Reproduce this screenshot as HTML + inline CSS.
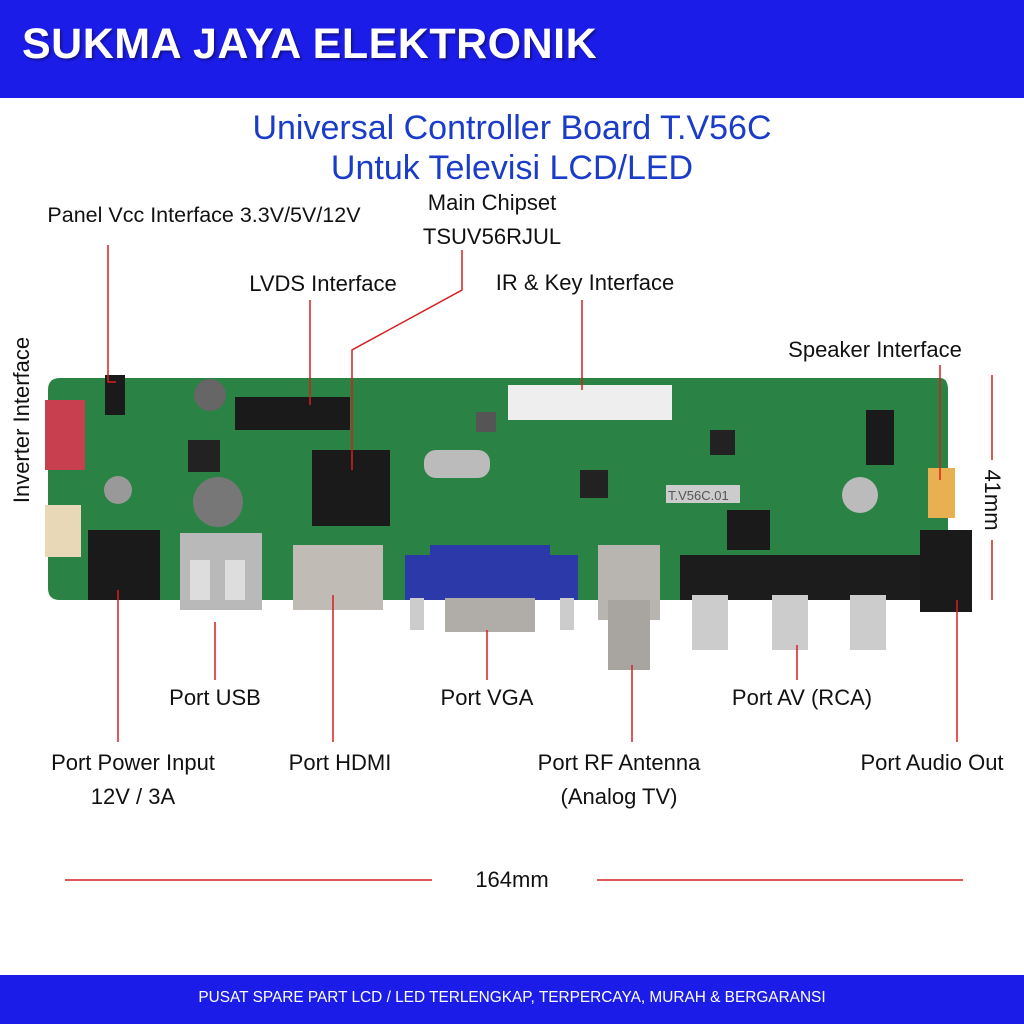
<!DOCTYPE html>
<html><head><meta charset="utf-8"><style>
html,body{margin:0;padding:0;width:1024px;height:1024px;overflow:hidden;background:#fff;font-family:"Liberation Sans",sans-serif;}
.t{position:absolute;color:#111;font-size:22px;white-space:nowrap;transform:translateX(-50%);}
</style></head><body>
<div style="position:absolute;left:0;top:0;width:1024px;height:98px;background:#1c1ce8;"></div>
<div style="position:absolute;left:22px;top:20px;color:#fff;font-weight:bold;font-size:43px;letter-spacing:0.5px;text-shadow:2px 2px 2px rgba(0,0,0,0.35)">SUKMA JAYA ELEKTRONIK</div>
<div class="t" style="left:512px;top:109px;color:#1a3cc8;font-size:34px">Universal Controller Board T.V56C</div>
<div class="t" style="left:512px;top:149px;color:#1a3cc8;font-size:34px">Untuk Televisi LCD/LED</div>

<svg width="1024" height="1024" style="position:absolute;left:0;top:0">
<path d="M60 378 L940 378 Q948 378 948 390 L948 540 L920 540 L920 600 L60 600 Q48 600 48 588 L48 390 Q48 378 60 378Z" fill="#2a8244"/>
<rect x="45" y="400" width="40" height="70" fill="#c8404f"/>
<rect x="45" y="505" width="36" height="52" fill="#e8d8b8"/>
<circle cx="118" cy="490" r="14" fill="#999"/>
<circle cx="860" cy="495" r="18" fill="#bbb"/>
<rect x="88" y="530" width="72" height="70" fill="#1a1a1a"/>
<rect x="180" y="533" width="82" height="77" fill="#b9b9b9"/>
<rect x="190" y="560" width="20" height="40" fill="#ddd"/><rect x="225" y="560" width="20" height="40" fill="#ddd"/>
<rect x="293" y="545" width="90" height="65" fill="#c0bcb5"/>
<rect x="405" y="555" width="173" height="45" fill="#2b3aa8"/>
<rect x="430" y="545" width="120" height="15" fill="#2b3aa8"/>
<rect x="445" y="598" width="90" height="34" fill="#b0aca8"/>
<rect x="410" y="598" width="14" height="32" fill="#ccc"/><rect x="560" y="598" width="14" height="32" fill="#ccc"/>
<rect x="598" y="545" width="62" height="75" fill="#b8b4b0"/>
<rect x="608" y="600" width="42" height="70" fill="#a8a4a0"/>
<rect x="680" y="555" width="240" height="45" fill="#1c1c1c"/>
<rect x="692" y="595" width="36" height="55" fill="#ccc"/><rect x="772" y="595" width="36" height="55" fill="#ccc"/><rect x="850" y="595" width="36" height="55" fill="#ccc"/>
<rect x="920" y="530" width="52" height="82" fill="#1a1a1a"/>
<rect x="235" y="397" width="115" height="33" fill="#1a1a1a"/>
<rect x="312" y="450" width="78" height="76" fill="#1a1a1a"/>
<rect x="508" y="385" width="164" height="35" fill="#eee"/>
<rect x="424" y="450" width="66" height="28" rx="12" fill="#bbb"/>
<circle cx="210" cy="395" r="16" fill="#666"/>
<circle cx="218" cy="502" r="25" fill="#777"/>
<rect x="188" y="440" width="32" height="32" fill="#222"/>
<rect x="928" y="468" width="27" height="50" fill="#e8b050"/>
<rect x="866" y="410" width="28" height="55" fill="#1a1a1a"/>
<rect x="727" y="510" width="43" height="40" fill="#1a1a1a"/>
<rect x="710" y="430" width="25" height="25" fill="#222"/>
<rect x="580" y="470" width="28" height="28" fill="#222"/>
<rect x="476" y="412" width="20" height="20" fill="#555"/>
<rect x="666" y="485" width="74" height="18" fill="#ccc"/>
<text x="668" y="500" font-family="Liberation Sans" font-size="13" fill="#555">T.V56C.01</text>
<rect x="105" y="375" width="20" height="40" fill="#1a1a1a"/>
<g stroke="#d42020" stroke-width="1.5" fill="none">
<path d="M108 245 L108 382 L116 382"/>
<path d="M310 300 L310 405"/>
<path d="M462 250 L462 290 L352 350 L352 470"/>
<path d="M582 300 L582 390"/>
<path d="M940 365 L940 480"/>
<path d="M992 375 L992 460 M992 540 L992 600"/>
<path d="M215 622 L215 680"/>
<path d="M118 590 L118 742"/>
<path d="M333 595 L333 742"/>
<path d="M487 630 L487 680"/>
<path d="M632 665 L632 742"/>
<path d="M797 645 L797 680"/>
<path d="M957 600 L957 742"/>
<path d="M65 880 L432 880 M597 880 L963 880"/>
</g>
</svg>

<div class="t" style="left:204px;top:203px;font-size:21.5px">Panel Vcc Interface 3.3V/5V/12V</div>
<div class="t" style="left:492px;top:190px">Main Chipset</div>
<div class="t" style="left:492px;top:224px">TSUV56RJUL</div>
<div class="t" style="left:323px;top:271px">LVDS Interface</div>
<div class="t" style="left:585px;top:270px">IR &amp; Key Interface</div>
<div class="t" style="left:875px;top:337px">Speaker Interface</div>
<div class="t" style="left:22px;top:407px;transform:translate(-50%,0) rotate(-90deg)">Inverter Interface</div>
<div class="t" style="left:992px;top:487px;transform:translate(-50%,0) rotate(90deg)">41mm</div>
<div class="t" style="left:215px;top:685px">Port USB</div>
<div class="t" style="left:133px;top:750px">Port Power Input</div>
<div class="t" style="left:133px;top:784px">12V / 3A</div>
<div class="t" style="left:340px;top:750px">Port HDMI</div>
<div class="t" style="left:487px;top:685px">Port VGA</div>
<div class="t" style="left:619px;top:750px">Port RF Antenna</div>
<div class="t" style="left:619px;top:784px">(Analog TV)</div>
<div class="t" style="left:802px;top:685px">Port AV (RCA)</div>
<div class="t" style="left:932px;top:750px">Port Audio Out</div>
<div class="t" style="left:512px;top:867px">164mm</div>

<div style="position:absolute;left:0;top:975px;width:1024px;height:49px;background:#1c1ce8;"></div>
<div class="t" style="left:512px;top:989px;color:#fff;font-size:15.4px">PUSAT SPARE PART LCD / LED TERLENGKAP, TERPERCAYA, MURAH &amp; BERGARANSI</div>
</body></html>
